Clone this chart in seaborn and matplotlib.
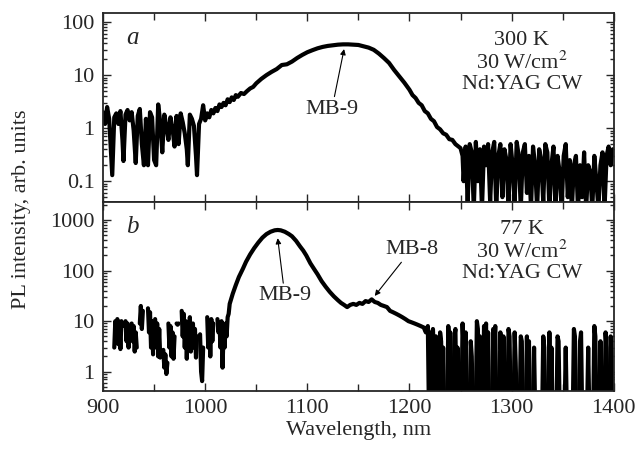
import numpy as np
import pandas as pd
import matplotlib
matplotlib.use("Agg")
import matplotlib.pyplot as plt
import matplotlib.ticker as mticker
import seaborn as sns

nan = np.nan

# panel a: 300 K spectrum (wavelength nm, PL intensity arb. units)
wl_a = [900, 902, 904, 906, 908, 909, 911, 913, 915, 917,
        919, 920, 922, 924, 926, 928, 930, 932, 934, 936,
        938, 940, 942, 944, 946, 948, 950, 952, 954, 956,
        958, 960, 962, 964, 966, 968, 970, 972, 974, 976,
        978, 980, 982, 983, 985, 987, 989, 991, 992, 994,
        996, 998, 1000, 1002, 1004, 1006, 1008, 1010, 1012, 1014,
        1016, 1018, 1020, 1022, 1024, 1026, 1028, 1030, 1032, 1035,
        1038, 1041, 1044, 1047, 1050, 1055, 1060, 1065, 1070, 1075,
        1080, 1085, 1090, 1095, 1100, 1105, 1110, 1115, 1120, 1125,
        1130, 1135, 1140, 1145, 1150, 1155, 1160, 1165, 1170, 1175,
        1180, 1185, 1190, 1195, 1200, 1203, 1206, 1209, 1212, 1215,
        1218, 1221, 1224, 1227, 1230, 1233, 1236, 1239, 1242, 1245,
        1248, 1250, 1252, 1253, 1255, 1257, 1259, 1261, 1263, 1265,
        1267, 1269, 1271, 1273, 1275, 1277, 1279, 1281, 1283, 1285,
        1287, 1289, 1291, 1293, 1295, 1297, 1299, 1301, 1303, 1305,
        1307, 1309, 1311, 1313, 1315, 1317, 1319, 1321, 1323, 1325,
        1327, 1329, 1331, 1333, 1335, 1337, 1339, 1341, 1343, 1345,
        1347, 1349, 1351, 1353, 1355, 1357, 1359, 1361, 1363, 1365,
        1367, 1369, 1371, 1373, 1375, 1377, 1379, 1381, 1383, 1385,
        1387, 1389, 1391, 1393, 1395, 1397, 1399]
pl_a = [2.0, 1.2, 2.5, 1.5, 0.3, 0.13, 1.6, 1.9, 1.2, 2.1,
        0.6, 0.24, 1.8, 2.2, 1.4, 2.0, 0.9, 0.22, 1.7, 2.3,
        0.5, 0.2, 1.5, 0.2, 2.0, 1.6, 0.25, 0.2, 2.8, 1.3,
        0.35, 1.8, 1.1, 0.6, 1.6, 1.0, 0.45, 1.7, 0.5, 1.9,
        1.3, 0.8, 0.4, 0.2, 1.8, 1.5, 1.1, 0.3, 0.13, 1.2,
        1.5, 2.7, 1.4, 1.9, 1.6, 2.2, 1.9, 2.4, 2.1, 2.8,
        2.5, 3.0, 2.7, 3.5, 3.1, 3.8, 3.4, 4.2, 3.9, 4.6,
        4.4, 5.0, 5.6, 6.0, 7.0, 8.5, 10, 11.5, 13, 15.5,
        16, 18, 21, 24, 27, 29.5, 32, 34, 35.5, 36.5,
        37.5, 38, 38, 37.5, 37, 35, 33, 30, 25.5, 21,
        17, 12.5, 9.5, 7.2, 5.3, 4.2, 3.7, 3.0, 2.7, 2.1,
        1.9, 1.5, 1.35, 1.05, 0.95, 0.8, 0.75, 0.62, 0.6, 0.5,
        0.45, 0.42, 0.3, 0.1, 0.45, 0.04, 0.5, 0.35, 0.03, 0.55,
        0.1, 0.4, 0.03, 0.45, 0.2, 0.5, 0.04, 0.35, 0.55, 0.03,
        0.3, 0.5, 0.05, 0.4, 0.25, 0.03, 0.5, 0.2, 0.04, 0.55,
        0.3, 0.03, 0.35, 0.5, 0.06, 0.3, 0.03, 0.45, 0.2, 0.03,
        0.4, 0.25, 0.04, 0.5, 0.35, 0.03, 0.2, 0.45, 0.03, 0.3,
        0.15, 0.03, 0.3, 0.5, 0.05, 0.25, 0.03, 0.2, 0.3, 0.03,
        0.2, 0.05, 0.35, 0.03, 0.2, 0.15, 0.03, 0.3, 0.1, 0.03,
        0.2, 0.35, 0.03, 0.3, 0.45, 0.2, 0.4]

# panel b: 77 K spectrum, nan = no signal (gap in the trace)
wl_b = [911, 912, 913, 914, 915, 916, 917, 918, 919, 920,
        922, 923, 924, 925, 926, 927, 928, 929, 930, 931,
        932, 933, 934, 936, 937, 938, 939, 941, 944, 945,
        946, 947, 948, 949, 950, 951, 952, 953, 954, 955,
        956, 957, 959, 960, 961, 962, 963, 963.5, 964, 965,
        966, 967, 968, 969, 970, 971, 972, 973, 974, 976,
        977, 978, 979, 980, 981, 982, 983, 984, 985, 986,
        987, 987.5, 988, 989, 990, 991, 992, 993, 995, 996,
        997, 998, 999, 1002, 1003, 1004, 1005, 1006, 1007, 1008,
        1010, 1012, 1013, 1014, 1015, 1016, 1017, 1018, 1019, 1020,
        1021, 1022, 1023, 1024, 1027, 1030, 1033, 1037, 1040, 1044,
        1048, 1052, 1056, 1060, 1064, 1068, 1071, 1074, 1078, 1082,
        1085, 1089, 1093, 1096, 1099, 1103, 1107, 1110, 1114, 1118,
        1122, 1126, 1130, 1133, 1136, 1139, 1142, 1145, 1148, 1151,
        1154, 1157, 1160, 1163, 1166, 1169, 1172, 1175, 1178, 1181,
        1184, 1187, 1190, 1193, 1196, 1199, 1202, 1205, 1208, 1211,
        1214, 1216, 1218, 1219, 1220, 1221, 1222, 1223, 1224, 1225,
        1226, 1227, 1228, 1229, 1230, 1231, 1232, 1233, 1234, 1235,
        1237, 1238, 1239, 1240, 1241, 1242, 1243, 1244, 1245, 1246,
        1247, 1248, 1249, 1251, 1252, 1253, 1254, 1255, 1256, 1257,
        1259, 1260, 1261, 1262, 1263, 1265, 1266, 1267, 1268, 1269,
        1270, 1271, 1272, 1273, 1274, 1275, 1276, 1277, 1278, 1279,
        1281, 1282, 1283, 1284, 1285, 1286, 1288, 1289, 1290, 1291,
        1292, 1293, 1294, 1296, 1297, 1298, 1299, 1300, 1302, 1303,
        1304, 1305, 1306, 1308, 1309, 1310, 1311, 1312, 1314, 1315,
        1316, 1317, 1318, 1319, 1321, 1322, 1323, 1324, 1330, 1331,
        1332, 1333, 1334, 1336, 1337, 1338, 1339, 1340, 1341, 1344,
        1345, 1346, 1347, 1348, 1352, 1353, 1354, 1355, 1360, 1361,
        1362, 1363, 1364, 1366, 1367, 1368, 1369, 1370, 1374, 1375,
        1376, 1377, 1380, 1381, 1382, 1383, 1384, 1386, 1387, 1388,
        1389, 1391, 1392, 1393, 1394, 1395, 1396, 1397, 1398, 1399]
pl_b = [3.0, 10, 5, 11, 3.5, 9, 2.8, 10, 8, nan,
        10, 4, 9, 3, 7, nan, 9, 4, 8, 2.5,
        6, 3, nan, 9, 20, 7, 16, nan, 18, 6,
        15, 3, 10, 2.2, nan, 11, 3, 9, 2, 7,
        1.9, nan, 2.7, 1.2, 2.2, 0.9, 1.5, nan, 9, 3,
        8, 2, 6, 1.8, 5, nan, 9, 8.5, 9, nan,
        16, 5, 14, 3, 10, 1.8, 8, 4, 12, 2.5,
        6, nan, 9, 3, 7, 1.9, 5, nan, 5.5, 1.0,
        0.65, 3, nan, 12, 3, 10, 2, 11, 4, 9,
        nan, 11, 6, 9, 3, 10, 1.2, 6, 3, 9,
        5, 12, 14, 22, 35, 52, 75, 110, 150, 210,
        280, 360, 450, 530, 590, 630, 640, 630, 590, 530,
        480, 390, 300, 250, 200, 140, 105, 85, 62, 48,
        38, 31, 26, 23, 21, 19, 21, 22, 21, 23,
        22, 25, 24, 27, 24, 23, 21, 20, 19, 16,
        15, 14, 13, 12, 11, 10, 9.5, 9, 8.5, 8,
        7.5, 6, 8, 0.2, 6, 3, 0.2, 7, 2, 0.2,
        5, 0.2, nan, 0.2, 6, 4, 0.2, 3, 0.2, nan,
        0.2, 8, 4, 6, 0.2, nan, 0.2, 5, 7, 0.2,
        3, 0.2, nan, 0.2, 9, 3, 0.2, 6, 0.2, nan,
        0.2, 4, 2, 0.2, nan, 0.2, 10, 7, 0.2, 5,
        0.2, nan, 0.2, 8, 4, 9, 0.2, 6, 0.2, nan,
        0.2, 7, 3, 8, 0.2, nan, 0.2, 6, 2, 0.2,
        5, 0.2, nan, 0.2, 7, 5, 0.2, nan, 0.2, 6,
        1.5, 0.2, nan, 0.2, 5, 4, 0.2, nan, 0.2, 5,
        0.2, 4, 0.2, nan, 0.2, 3, 0.2, nan, 0.2, 5,
        3, 0.2, nan, 0.2, 6, 0.2, 3, 0.2, nan, 0.2,
        5, 4, 0.2, nan, 0.2, 3, 0.2, nan, 0.2, 7,
        5, 0.2, nan, 0.2, 4, 6, 0.2, nan, 0.2, 3,
        0.2, nan, 0.2, 8, 5, 0.2, nan, 0.2, 4, 0.2,
        nan, 0.2, 6, 3, 0.2, nan, 0.2, 5, 2, 0.2]

ticks_a = [0.1, 1, 10, 100]
ticks_b = [1, 10, 100, 1000]
tick_labels_a = ["0.1", "1", "10", "100"]
tick_labels_b = ["1", "10", "100", "1000"]
info_a = ["300 K", "30 W/cm$^2$", "Nd:YAG CW"]
info_b = ["77 K", "30 W/cm$^2$", "Nd:YAG CW"]


def to_frame(wl, pl):
    df = pd.DataFrame({"wl": wl, "pl": pl})
    # every nan starts a new piece of line so gaps stay open
    df["seg"] = df["pl"].isna().cumsum()
    return df.dropna()


sns.set_style("ticks")
plt.rcParams["font.family"] = ["Liberation Serif", "DejaVu Serif"]
plt.rcParams["mathtext.fontset"] = "stix"
plt.rcParams["font.size"] = 16

fig, (ax_a, ax_b) = plt.subplots(2, 1, figsize=(6.44, 4.55), dpi=100, sharex=True)
fig.subplots_adjust(left=0.16, right=0.953, top=0.971, bottom=0.141, hspace=0)

panels = [
    (ax_a, to_frame(wl_a, pl_a), (0.0405, 147), ticks_a, tick_labels_a, "a", info_a),
    (ax_b, to_frame(wl_b, pl_b), (0.417, 2290), ticks_b, tick_labels_b, "b", info_b),
]

for ax, df, ylim, ticks, labels, letter, info in panels:
    sns.lineplot(data=df, x="wl", y="pl", units="seg", estimator=None, sort=False,
                 color="black", lw=3.0, legend=False, ax=ax)
    ax.set_yscale("log")
    ax.set_ylim(*ylim)
    ax.set_xlim(900, 1400)
    ax.set_yticks(ticks)
    ax.set_yticklabels(labels)
    ax.yaxis.set_minor_locator(mticker.LogLocator(base=10, subs=np.arange(2, 10)))
    ax.yaxis.set_minor_formatter(mticker.NullFormatter())
    ax.xaxis.set_major_locator(mticker.MultipleLocator(100))
    ax.xaxis.set_minor_locator(mticker.MultipleLocator(50))
    ax.tick_params(which="both", direction="in", top=True, right=True, width=1.0)
    ax.tick_params(which="major", length=6, pad=6, labelsize=16)
    ax.tick_params(axis="x", which="minor", length=5)
    ax.tick_params(axis="y", which="minor", length=3)
    for sp in ax.spines.values():
        sp.set_linewidth(1.3)
    ax.set_xlabel("")
    ax.set_ylabel("")
    ax.text(0.057, 0.87, letter, transform=ax.transAxes, fontsize=18,
            style="italic", ha="center", va="center")
    for txt, yy in zip(info, [0.855, 0.738, 0.622]):
        ax.text(0.82, yy, txt, transform=ax.transAxes, ha="center", va="center", fontsize=16)

arrow = dict(arrowstyle="-|>", color="black", lw=0.8, mutation_scale=8, shrinkA=0, shrinkB=0)
ax_a.annotate("MB-9", xy=(1136, 31), xytext=(1124, 2.26), ha="center", va="center",
              fontsize=16, arrowprops=arrow)
ax_b.annotate("MB-9", xy=(1071, 440), xytext=(1078, 31.6), ha="center", va="center",
              fontsize=16, arrowprops=arrow)
ax_b.annotate("MB-8", xy=(1166, 31.6), xytext=(1202, 263), ha="center", va="center",
              fontsize=16, arrowprops=arrow)

ax_a.tick_params(axis="x", labelbottom=False)
ax_b.set_xlabel("Wavelength, nm", fontsize=16, labelpad=2)
fig.text(0.034, 0.54, "PL intensity, arb. units", rotation=90, ha="center", va="center",
         fontsize=16)

fig.savefig("out.png", dpi=100)
